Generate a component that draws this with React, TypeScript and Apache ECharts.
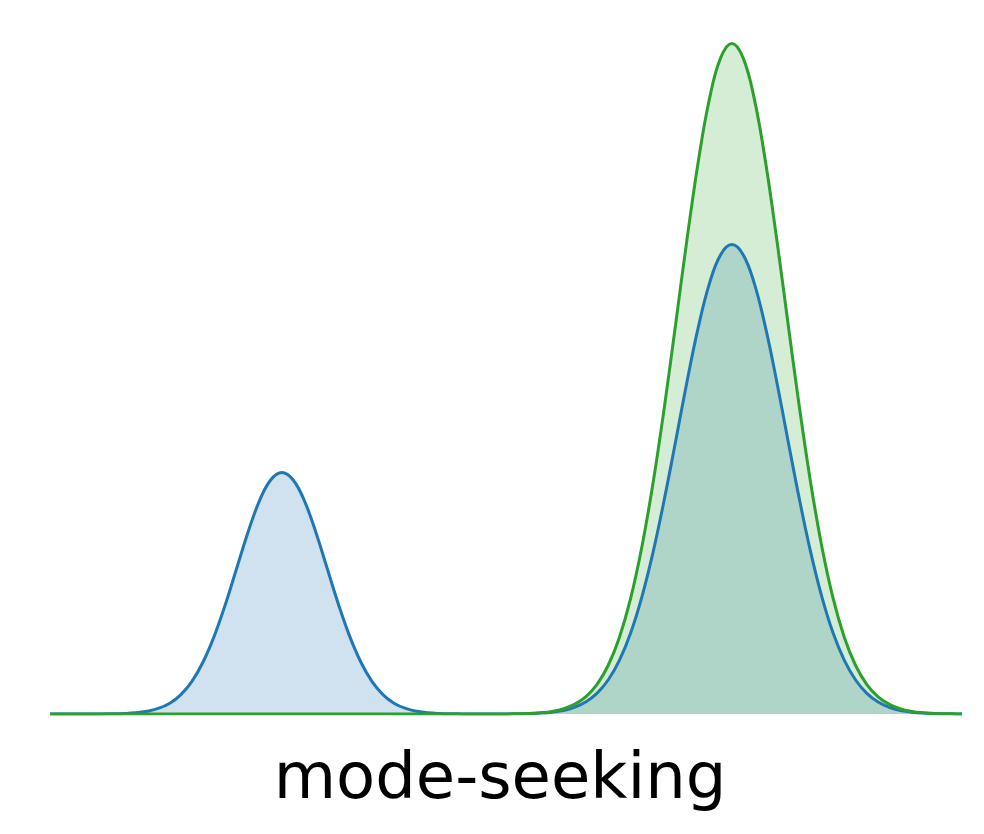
import React, { useEffect, useRef } from "react";
import * as echarts from "echarts";

// sample positions along the horizontal axis
const xs: number[] = [
  -5.125,
  -5, -4.875, -4.75, -4.625, -4.5, -4.375, -4.25, -4.125, -4, -3.875,
  -3.75, -3.625, -3.5, -3.375, -3.25, -3.125, -3, -2.875, -2.75, -2.625,
  -2.5, -2.375, -2.25, -2.125, -2, -1.875, -1.75, -1.625, -1.5, -1.375,
  -1.25, -1.125, -1, -0.875, -0.75, -0.625, -0.5, -0.375, -0.25, -0.125,
  0, 0.125, 0.25, 0.375, 0.5, 0.625, 0.75, 0.875, 1, 1.125,
  1.25, 1.375, 1.5, 1.625, 1.75, 1.875, 2, 2.125, 2.25, 2.375,
  2.5, 2.625, 2.75, 2.875, 3, 3.125, 3.25, 3.375, 3.5, 3.625,
  3.75, 3.875, 4, 4.125, 4.25, 4.375, 4.5, 4.625, 4.75, 4.875,
  5, 5.125,
];

// target distribution p (bimodal, blue)
const pValues: number[] = [
  0,
  0, 0, 0, 0, 0.0001, 0.0002, 0.0005, 0.0012, 0.0027, 0.0055,
  0.0105, 0.019, 0.0324, 0.0518, 0.0777, 0.1096, 0.1452, 0.1807, 0.2113, 0.232,
  0.2394, 0.232, 0.2113, 0.1807, 0.1452, 0.1096, 0.0777, 0.0518, 0.0324, 0.019,
  0.0105, 0.0055, 0.0027, 0.0012, 0.0005, 0.0002, 0.0001, 0, 0, 0,
  0.0001, 0.0002, 0.0004, 0.0009, 0.0018, 0.0035, 0.0066, 0.0119, 0.0205, 0.0337,
  0.0531, 0.0802, 0.1161, 0.1607, 0.2131, 0.2705, 0.3289, 0.3828, 0.4267, 0.4554,
  0.4654, 0.4554, 0.4267, 0.3828, 0.3289, 0.2705, 0.2131, 0.1607, 0.1161, 0.0802,
  0.0531, 0.0337, 0.0205, 0.0119, 0.0066, 0.0035, 0.0018, 0.0009, 0.0004, 0.0002,
  0.0001, 0,
];

// fitted distribution q (unimodal, green)
const qValues: number[] = [
  0,
  0, 0, 0, 0, 0, 0, 0, 0, 0, 0,
  0, 0, 0, 0, 0, 0, 0, 0, 0, 0,
  0, 0, 0, 0, 0, 0, 0, 0, 0, 0,
  0, 0, 0, 0, 0, 0, 0, 0, 0, 0,
  0.0001, 0.0003, 0.0006, 0.0013, 0.0026, 0.005, 0.0095, 0.017, 0.0292, 0.0481,
  0.0759, 0.1146, 0.1658, 0.2296, 0.3044, 0.3865, 0.4698, 0.5469, 0.6096, 0.6506,
  0.6649, 0.6506, 0.6096, 0.5469, 0.4698, 0.3865, 0.3044, 0.2296, 0.1658, 0.1146,
  0.0759, 0.0481, 0.0292, 0.017, 0.0095, 0.005, 0.0026, 0.0013, 0.0006, 0.0003,
  0.0001, 0,
];

const caption = "mode-seeking";

export default function App() {
  const ref = useRef<HTMLDivElement>(null);
  useEffect(() => {
    document.body.style.margin = "0";
    const chart = echarts.init(ref.current!, null, { renderer: "svg" });
    const pData = xs.map((x, i) => [x, pValues[i]]);
    const qData = xs.map((x, i) => [x, qValues[i]]);
    const base = { type: "line", smooth: 0.4, showSymbol: false, silent: true };
    chart.setOption({
      animation: false,
      backgroundColor: "#ffffff",
      grid: { left: 52, right: 24, top: 8, bottom: 120 },
      xAxis: { type: "value", min: -5.055, max: 5.035, show: false },
      yAxis: { type: "value", min: 0, max: 0.7, show: false },
      series: [
        {
          ...base,
          name: "p fill",
          data: pData,
          lineStyle: { width: 0, opacity: 0 },
          areaStyle: { color: "rgba(31,119,180,0.21)", opacity: 1, origin: 0 },
          z: 1,
        },
        {
          ...base,
          name: "q fill",
          data: qData,
          lineStyle: { width: 0, opacity: 0 },
          areaStyle: { color: "rgba(44,160,44,0.2)", opacity: 1, origin: 0 },
          z: 2,
        },
        {
          ...base,
          name: "p",
          data: pData,
          lineStyle: { color: "#1f77b4", width: 3 },
          z: 3,
        },
        {
          ...base,
          name: "q",
          data: qData,
          lineStyle: { color: "#2ca02c", width: 3 },
          z: 4,
        },
      ],
      graphic: [
        {
          type: "text",
          x: 500,
          y: 776,
          style: {
            text: caption,
            fontFamily: "DejaVu Sans",
            fontSize: 64,
            fill: "#000000",
            align: "center",
            verticalAlign: "middle",
          },
        },
      ],
    });
    return () => chart.dispose();
  }, []);
  return <div ref={ref} style={{ position: "absolute", left: 0, top: 0, width: 984, height: 834 }} />;
}
